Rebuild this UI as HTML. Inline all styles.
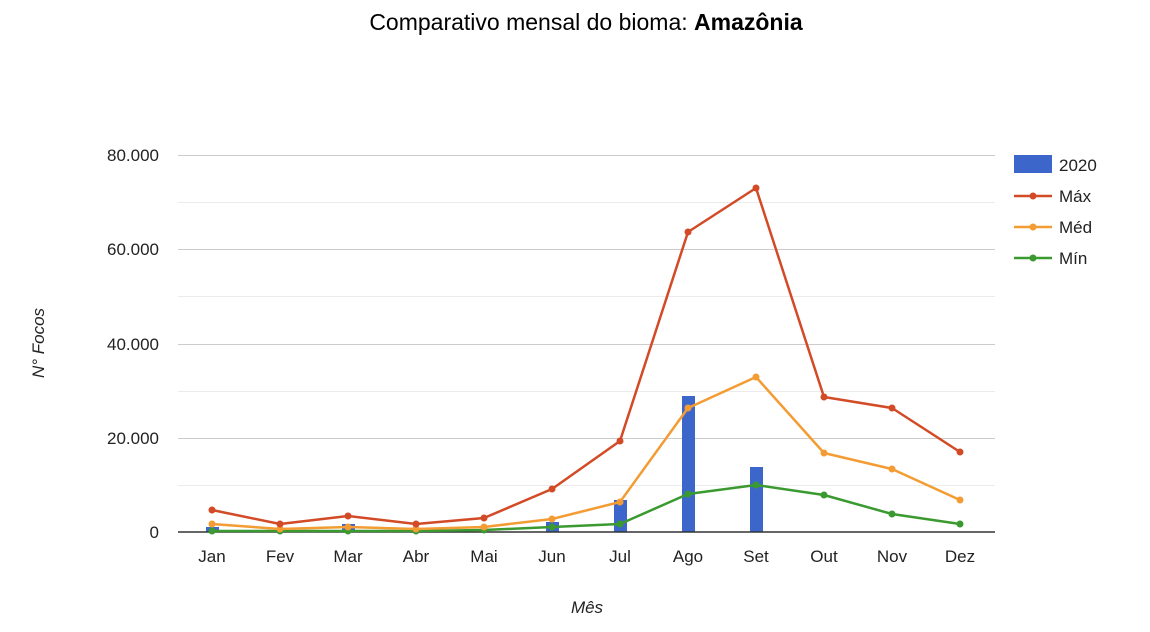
<!DOCTYPE html>
<html><head><meta charset="utf-8"><style>
html,body{margin:0;padding:0;background:#fff;}
svg{display:block;font-family:"Liberation Sans",Arial,sans-serif;}
</style></head><body>
<svg width="1150" height="632" xmlns="http://www.w3.org/2000/svg">
<text x="586" y="30" font-size="23" text-anchor="middle" fill="#000">Comparativo mensal do bioma: <tspan font-weight="bold">Amazônia</tspan></text>
<g stroke="#ebebeb" stroke-width="1">
<line x1="178" x2="995" y1="202.5" y2="202.5"/><line x1="178" x2="995" y1="296.5" y2="296.5"/>
<line x1="178" x2="995" y1="391.5" y2="391.5"/><line x1="178" x2="995" y1="485.5" y2="485.5"/>
</g>
<g stroke="#cccccc" stroke-width="1">
<line x1="178" x2="995" y1="155.5" y2="155.5"/><line x1="178" x2="995" y1="249.5" y2="249.5"/>
<line x1="178" x2="995" y1="344.5" y2="344.5"/><line x1="178" x2="995" y1="438.5" y2="438.5"/>
</g>
<g font-size="17" fill="#222" text-anchor="end">
<text x="159" y="161">80.000</text><text x="159" y="255">60.000</text><text x="159" y="350">40.000</text><text x="159" y="444">20.000</text><text x="159" y="538">0</text>
</g>
<g fill="#3c66c9">
<rect x="206" y="527" width="13" height="5"/>
<rect x="342" y="524" width="13" height="8"/>
<rect x="546" y="522" width="13" height="10"/>
<rect x="614" y="500" width="13" height="32"/>
<rect x="682" y="396" width="13" height="136"/>
<rect x="750" y="467" width="13" height="65"/>
</g>
<line x1="178" x2="995" y1="532" y2="532" stroke="#333" stroke-width="1.5"/>
<g fill="none" stroke-width="2.5" stroke-linejoin="round">
<polyline stroke="#3a9a30" points="212,531 280,531 348,531 416,531 484,530 552,527 620,524 688,494 756,485 824,495 892,514 960,524"/>
<polyline stroke="#f39c33" points="212,524 280,529 348,527 416,529 484,527 552,519 620,502 688,408 756,377 824,453 892,469 960,500"/>
<polyline stroke="#d24a26" points="212,510 280,524 348,516 416,524 484,518 552,489 620,441 688,232 756,188 824,397 892,408 960,452"/>
</g>
<g fill="#3a9a30"><circle cx="212" cy="531" r="3.5"/><circle cx="280" cy="531" r="3.5"/><circle cx="348" cy="531" r="3.5"/><circle cx="416" cy="531" r="3.5"/><circle cx="484" cy="530" r="3.5"/><circle cx="552" cy="527" r="3.5"/><circle cx="620" cy="524" r="3.5"/><circle cx="688" cy="494" r="3.5"/><circle cx="756" cy="485" r="3.5"/><circle cx="824" cy="495" r="3.5"/><circle cx="892" cy="514" r="3.5"/><circle cx="960" cy="524" r="3.5"/></g>
<g fill="#f39c33"><circle cx="212" cy="524" r="3.5"/><circle cx="280" cy="529" r="3.5"/><circle cx="348" cy="527" r="3.5"/><circle cx="416" cy="529" r="3.5"/><circle cx="484" cy="527" r="3.5"/><circle cx="552" cy="519" r="3.5"/><circle cx="620" cy="502" r="3.5"/><circle cx="688" cy="408" r="3.5"/><circle cx="756" cy="377" r="3.5"/><circle cx="824" cy="453" r="3.5"/><circle cx="892" cy="469" r="3.5"/><circle cx="960" cy="500" r="3.5"/></g>
<g fill="#d24a26"><circle cx="212" cy="510" r="3.5"/><circle cx="280" cy="524" r="3.5"/><circle cx="348" cy="516" r="3.5"/><circle cx="416" cy="524" r="3.5"/><circle cx="484" cy="518" r="3.5"/><circle cx="552" cy="489" r="3.5"/><circle cx="620" cy="441" r="3.5"/><circle cx="688" cy="232" r="3.5"/><circle cx="756" cy="188" r="3.5"/><circle cx="824" cy="397" r="3.5"/><circle cx="892" cy="408" r="3.5"/><circle cx="960" cy="452" r="3.5"/></g>
<g font-size="17" fill="#222" text-anchor="middle">
<text x="212" y="562">Jan</text><text x="280" y="562">Fev</text><text x="348" y="562">Mar</text><text x="416" y="562">Abr</text><text x="484" y="562">Mai</text><text x="552" y="562">Jun</text><text x="620" y="562">Jul</text><text x="688" y="562">Ago</text><text x="756" y="562">Set</text><text x="824" y="562">Out</text><text x="892" y="562">Nov</text><text x="960" y="562">Dez</text>
</g>
<text x="587" y="613" font-size="17" font-style="italic" text-anchor="middle" fill="#222">Mês</text>
<text transform="translate(44,343) rotate(-90)" font-size="17" font-style="italic" text-anchor="middle" fill="#222">N° Focos</text>
<rect x="1014" y="155" width="38" height="18" fill="#3c66c9"/>
<text x="1059" y="171" font-size="17" fill="#222">2020</text>
<line x1="1014" x2="1052" y1="196" y2="196" stroke="#d24a26" stroke-width="2.5"/><circle cx="1033" cy="196" r="3.5" fill="#d24a26"/>
<text x="1059" y="202" font-size="17" fill="#222">Máx</text>
<line x1="1014" x2="1052" y1="227" y2="227" stroke="#f39c33" stroke-width="2.5"/><circle cx="1033" cy="227" r="3.5" fill="#f39c33"/>
<text x="1059" y="233" font-size="17" fill="#222">Méd</text>
<line x1="1014" x2="1052" y1="258" y2="258" stroke="#3a9a30" stroke-width="2.5"/><circle cx="1033" cy="258" r="3.5" fill="#3a9a30"/>
<text x="1059" y="264" font-size="17" fill="#222">Mín</text>
</svg>
</body></html>
